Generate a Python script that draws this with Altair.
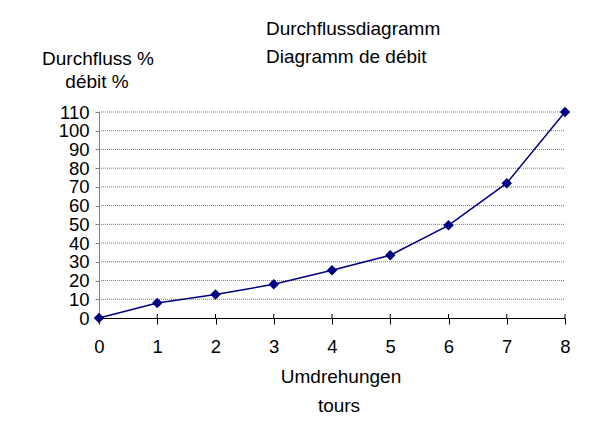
import altair as alt
import pandas as pd

turns = [0, 1, 2, 3, 4, 5, 6, 7, 8]
flow = [0, 8, 12.5, 18, 25.5, 33.5, 49.5, 72, 110]
y_ticks = [0, 10, 20, 30, 40, 50, 60, 70, 80, 90, 100, 110]
title_lines = ["Durchflussdiagramm", "Diagramm de débit"]
y_title_lines = ["Durchfluss %", "débit %"]
x_title_lines = ["Umdrehungen", "tours"]

FONT = "Liberation Sans"
NAVY = "#000080"

df = pd.DataFrame({"turns": turns, "flow": flow})
ticks_df = pd.DataFrame({"turns": turns})
grid_df = pd.DataFrame({"flow": y_ticks[1:]})

xs = alt.Scale(domain=[0, 8], nice=False, zero=False)
ys = alt.Scale(domain=[0, 110], nice=False)

x_axis = alt.Axis(values=turns, title=None, grid=False, domainColor="black",
                  tickColor="black", tickSize=6, labelPadding=28,
                  labelBaseline="alphabetic", labelFont=FONT, labelFontSize=18.5,
                  labelColor="black", labelFlush=False, labelOverlap=False, format="d")
y_axis = alt.Axis(values=y_ticks, title=None, grid=False, domainColor="#808080",
                  tickColor="#808080", tickSize=4, labelPadding=6,
                  labelFont=FONT, labelFontSize=18.5, labelColor="black",
                  labelFlush=False, labelOverlap=False, format="d")

grid = alt.Chart(grid_df).mark_rule(color="#777777", strokeWidth=1, strokeDash=[1, 1]).encode(
    y=alt.Y("flow:Q", scale=ys, axis=y_axis),
    x=alt.value(0),
    x2=alt.value(466),
)

base = alt.Chart(df)

line = base.mark_line(color=NAVY, strokeWidth=1.5).encode(
    x=alt.X("turns:Q", scale=xs, axis=x_axis),
    y=alt.Y("flow:Q", scale=ys, axis=y_axis),
)
points = base.mark_point(shape="diamond", filled=True, color=NAVY, size=110, opacity=1).encode(
    x=alt.X("turns:Q", scale=xs, axis=x_axis),
    y=alt.Y("flow:Q", scale=ys, axis=y_axis),
)
up_ticks = alt.Chart(ticks_df).mark_rule(color="black", strokeWidth=1).encode(
    x=alt.X("turns:Q", scale=xs, axis=x_axis),
    y=alt.value(202),
    y2=alt.value(206),
)

def label(text, x, y, align="left", size=19):
    return alt.Chart(pd.DataFrame({"t": [text]})).mark_text(
        font=FONT, fontSize=size, color="black", align=align, baseline="alphabetic"
    ).encode(text="t:N", x=alt.value(x), y=alt.value(y))

texts = [
    label(title_lines[0], 167, -77),
    label(title_lines[1], 167, -49),
    label(y_title_lines[0], -1, -47, align="center"),
    label(y_title_lines[1], -2, -24, align="center"),
    label(x_title_lines[0], 242, 271, align="center"),
    label(x_title_lines[1], 240, 300, align="center"),
]

chart = alt.layer(grid, line, up_ticks, points, *texts).properties(
    width=466, height=206,
    autosize=alt.AutoSizeParams(type="none"),
    padding={"left": 91, "top": 104, "right": 26, "bottom": 107},
    background="white",
).configure_view(strokeWidth=0)

chart.save("out.html", embed_options={"renderer": "svg", "actions": False})
